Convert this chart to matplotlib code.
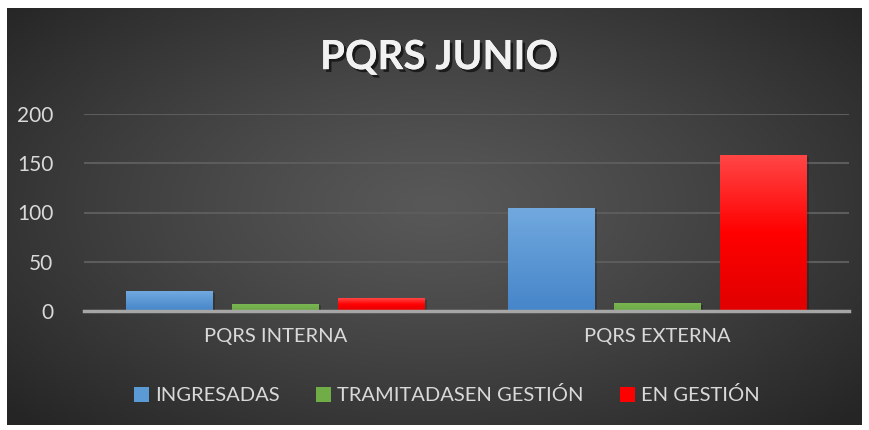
# PQRS junio - bar chart with dark gradient background
import numpy as np
import matplotlib.pyplot as plt
import matplotlib.patheffects as pe
from matplotlib.colors import LinearSegmentedColormap
from matplotlib.patches import Patch

categories = ['PQRS INTERNA', 'PQRS EXTERNA']
series = ['INGRESADAS', 'TRAMITADASEN GESTIÓN', 'EN GESTIÓN']
ingresadas = [20, 105]
tramitadas = [7, 8]
en_gestion = [13, 158]
yticks = [0, 50, 100, 150, 200]

plt.rcParams['font.family'] = ['Lato', 'DejaVu Sans']
txt = '#d9d9d9'

fig = plt.figure(figsize=(8.69, 4.30), dpi=100)
fig.patch.set_facecolor('white')

# background panel with radial gradient
bg = fig.add_axes([7/869, 5/430, 855/869, 417/430])
bg.set_axis_off()
xx, yy = np.meshgrid(np.linspace(-1, 1, 400), np.linspace(-1, 1, 200))
r = np.clip(np.sqrt((xx/1.0)**2 + ((yy+0.05)/1.1)**2) / 1.35, 0, 1)
c0, c1 = 0x58/255, 0x25/255
img = c0 + (c1 - c0) * r**1.2
bg.imshow(np.dstack([img, img, img]), aspect='auto', extent=[0, 1, 0, 1])
bg.set_xlim(0, 1)
bg.set_ylim(0, 1)

ax = fig.add_axes([84/869, 119/430, 765/869, 197/430])
ax.patch.set_alpha(0)

x = np.arange(len(categories))
w = 0.227
off = 0.277
cmaps = [
    LinearSegmentedColormap.from_list('b', ['#4585c9', '#72a9df']),
    LinearSegmentedColormap.from_list('g', ['#6aa844', '#7ab552']),
    LinearSegmentedColormap.from_list('r', ['#e00000', '#ff0000', '#ff4646']),
]
solid = ['#5b9bd5', '#70ad47', '#ff0000']
grad = np.linspace(0, 1, 256).reshape(-1, 1)

for i, vals in enumerate([ingresadas, tramitadas, en_gestion]):
    bars = ax.bar(x + (i - 1) * off, vals, w, color=solid[i], zorder=2,
                  path_effects=[pe.withSimplePatchShadow(offset=(1.5, -1), shadow_rgbFace='black', alpha=0.2)])
    for b in bars:
        im = ax.imshow(grad, cmap=cmaps[i], origin='lower', aspect='auto', zorder=3,
                       extent=[b.get_x(), b.get_x() + b.get_width(), 0, b.get_height()])
        im.set_clip_path(b)

ax.set_xlim(-0.5, 1.5)
ax.set_ylim(0, 200)
ax.set_yticks(yticks)
ax.set_xticks(x)
ax.set_xticklabels(categories)
ax.grid(axis='y', color='#5c5c5c', linewidth=1.5, zorder=0)
ax.set_axisbelow(True)
for s in ['top', 'right', 'left']:
    ax.spines[s].set_visible(False)
ax.spines['bottom'].set_color('#a6a6a6')
ax.spines['bottom'].set_linewidth(2.5)
ax.spines['bottom'].set_zorder(5)
ax.tick_params(axis='y', length=0, pad=22, labelsize=15, labelcolor=txt)
ax.tick_params(axis='x', length=0, pad=12, labelsize=14.5, labelcolor=txt)

fig.text(0.505, 0.866, 'PQRS JUNIO', ha='center', va='center', fontsize=29,
         fontweight='bold', color='#f2f2f2',
         path_effects=[pe.withSimplePatchShadow(offset=(2, -2), shadow_rgbFace='black', alpha=0.6), pe.Normal()])

handles = [Patch(facecolor=c) for c in solid]
fig.legend(handles, series, loc='center', bbox_to_anchor=(0.514, 0.081), ncol=3,
           frameon=False, fontsize=14.5, labelcolor=txt, handlelength=0.75, handleheight=0.75,
           handletextpad=0.3, columnspacing=1.8)

fig.savefig('out.png', dpi=100, facecolor='white')
